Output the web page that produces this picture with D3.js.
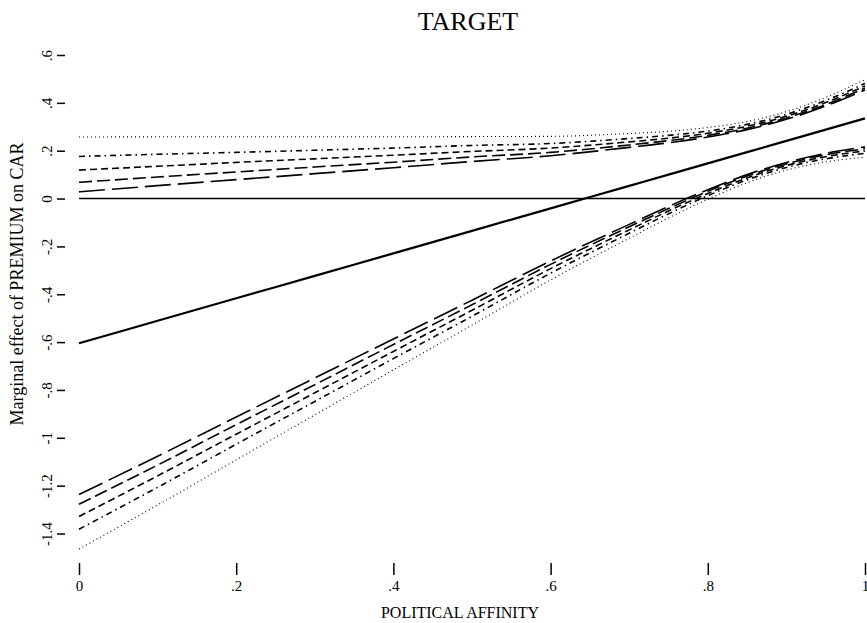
<!DOCTYPE html>
<html>
<head>
<meta charset="utf-8">
<script src="https://cdn.jsdelivr.net/npm/d3@7"></script>
<style>
  body { margin: 0; background: #fff; }
  svg { font-family: "Liberation Serif", "DejaVu Serif", serif; }
</style>
</head>
<body>
<div id="chart"></div>
<script>
// values
var affinity = [0, 0.1, 0.2, 0.3, 0.4, 0.5, 0.6, 0.7, 0.75, 0.8, 0.85, 0.9, 0.95, 1];
var effect = [-0.605, -0.511, -0.417, -0.323, -0.229, -0.135, -0.041, 0.053, 0.100, 0.147, 0.194, 0.241, 0.288, 0.335];

var upperLong    = [0.028, 0.054, 0.079, 0.104, 0.129, 0.155, 0.179, 0.214, 0.233, 0.257, 0.288, 0.331, 0.387, 0.454];
var upperDash    = [0.068, 0.090, 0.111, 0.132, 0.152, 0.174, 0.193, 0.224, 0.242, 0.264, 0.294, 0.337, 0.393, 0.462];
var upperShort   = [0.119, 0.135, 0.151, 0.166, 0.181, 0.197, 0.211, 0.237, 0.252, 0.273, 0.302, 0.344, 0.401, 0.471];
var upperDashDot = [0.176, 0.185, 0.193, 0.202, 0.211, 0.222, 0.230, 0.251, 0.264, 0.282, 0.310, 0.352, 0.410, 0.481];
var upperDot     = [0.257, 0.258, 0.258, 0.258, 0.258, 0.259, 0.260, 0.272, 0.281, 0.297, 0.322, 0.363, 0.423, 0.497];

var lowerLong    = [-1.237, -1.077, -0.913, -0.750, -0.587, -0.425, -0.261, -0.108, -0.033, 0.037, 0.100, 0.151, 0.189, 0.216];
var lowerDash    = [-1.278, -1.114, -0.945, -0.778, -0.610, -0.444, -0.275, -0.118, -0.042, 0.030, 0.094, 0.145, 0.183, 0.208];
var lowerShort   = [-1.329, -1.159, -0.985, -0.812, -0.639, -0.467, -0.293, -0.131, -0.052, 0.021, 0.086, 0.138, 0.175, 0.199];
var lowerDashDot = [-1.382, -1.207, -1.027, -0.848, -0.669, -0.492, -0.312, -0.145, -0.064, 0.012, 0.078, 0.130, 0.166, 0.189];
var lowerDot     = [-1.465, -1.281, -1.092, -0.904, -0.716, -0.529, -0.340, -0.166, -0.081, -0.003, 0.066, 0.119, 0.153, 0.173];

var xTicks = [0, 0.2, 0.4, 0.6, 0.8, 1];
var xTickLabels = ["0", ".2", ".4", ".6", ".8", "1"];
var yTicks = [0.6, 0.4, 0.2, 0, -0.2, -0.4, -0.6, -0.8, -1, -1.2, -1.4];
var yTickLabels = [".6", ".4", ".2", "0", "-.2", "-.4", "-.6", "-.8", "-1", "-1.2", "-1.4"];

var width = 867, height = 623;

var svg = d3.select('#chart').append('svg')
  .attr('width', width)
  .attr('height', height);

var x = d3.scaleLinear().domain([0, 1]).range([79, 865]);
var y = d3.scaleLinear().domain([-1.4, 0.6]).range([533.5, 55]);

// title
svg.append('text')
  .attr('x', 468).attr('y', 30)
  .attr('text-anchor', 'middle')
  .style('font-size', '26px')
  .text('TARGET');

// x axis
var xAxis = svg.append('g')
  .attr('transform', 'translate(0,563)')
  .call(d3.axisBottom(x)
    .tickValues(xTicks)
    .tickSize(12)
    .tickPadding(5)
    .tickFormat(function (d, i) { return xTickLabels[i]; }));
xAxis.select('.domain').remove();
xAxis.selectAll('line').attr('stroke', '#000').attr('stroke-width', 1.5);
xAxis.selectAll('text')
  .attr('font-family', '"Liberation Serif", serif')
  .style('font-size', '15px')
  .attr('fill', '#000');

svg.append('text')
  .attr('x', 460).attr('y', 618)
  .attr('text-anchor', 'middle')
  .style('font-size', '16px')
  .text('POLITICAL AFFINITY');

// y axis
var yAxis = svg.append('g')
  .attr('transform', 'translate(65,0)')
  .call(d3.axisLeft(y)
    .tickValues(yTicks)
    .tickSize(8)
    .tickFormat(function (d, i) { return yTickLabels[i]; }));
yAxis.select('.domain').remove();
yAxis.selectAll('line').attr('stroke', '#000').attr('stroke-width', 1.5);
yAxis.selectAll('text')
  .attr('x', null).attr('dy', null)
  .attr('transform', 'translate(-13,0) rotate(-90)')
  .attr('text-anchor', 'middle')
  .attr('font-family', '"Liberation Serif", serif')
  .style('font-size', '15px')
  .attr('fill', '#000');

svg.append('text')
  .attr('transform', 'translate(23,284) rotate(-90)')
  .attr('text-anchor', 'middle')
  .style('font-size', '18px')
  .text('Marginal effect of PREMIUM on CAR');

// zero reference line
svg.append('line')
  .attr('x1', x(0)).attr('x2', x(1))
  .attr('y1', y(0)).attr('y2', y(0))
  .attr('stroke', '#000')
  .attr('stroke-width', 1.6);

var line = d3.line()
  .x(function (d, i) { return x(affinity[i]); })
  .y(function (d) { return y(d); })
  .curve(d3.curveMonotoneX);

var bands = [
  { values: upperLong, dash: '26,7', w: 1.6 },
  { values: lowerLong, dash: '26,7', w: 1.6 },
  { values: upperDash, dash: '13,5', w: 1.6 },
  { values: lowerDash, dash: '13,5', w: 1.6 },
  { values: upperShort, dash: '7,4', w: 1.6 },
  { values: lowerShort, dash: '7,4', w: 1.6 },
  { values: upperDashDot, dash: '6,4,1.5,4', w: 1.6 },
  { values: lowerDashDot, dash: '6,4,1.5,4', w: 1.6 },
  { values: upperDot, dash: '1,3', w: 1.1 },
  { values: lowerDot, dash: '1,3', w: 1.1 }
];

svg.selectAll('path.band')
  .data(bands)
  .enter().append('path')
  .attr('class', 'band')
  .attr('d', function (d) { return line(d.values); })
  .attr('fill', 'none')
  .attr('stroke', '#000')
  .attr('stroke-width', function (d) { return d.w; })
  .attr('stroke-dasharray', function (d) { return d.dash; });

// estimated marginal effect
svg.append('path')
  .attr('d', line(effect))
  .attr('fill', 'none')
  .attr('stroke', '#000')
  .attr('stroke-width', 2.2);
</script>
</body>
</html>
